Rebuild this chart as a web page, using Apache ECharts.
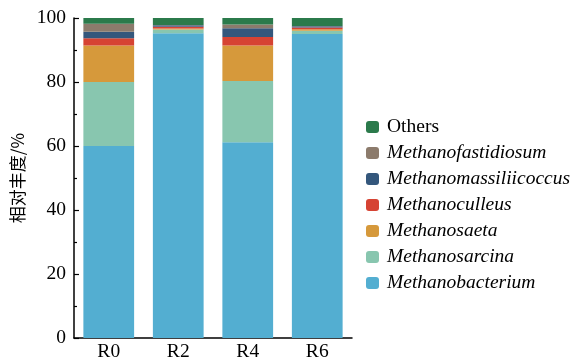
<!DOCTYPE html>
<html>
<head>
<meta charset="utf-8">
<script src="https://cdn.jsdelivr.net/npm/echarts@6/dist/echarts.min.js"></script>
<style>
  html, body { margin: 0; padding: 0; background: #fff; }
  #chart { width: 582px; height: 362px; }
</style>
</head>
<body>
<div id="chart"></div>
<script>
// Samples on the x axis
const samples = ['R0', 'R2', 'R4', 'R6'];

// Relative abundance (%) of each methanogen genus, per sample
const methanobacterium    = [60.0, 95.2, 61.2, 95.0];
const methanosarcina      = [20.0, 1.2, 19.1, 1.0];
const methanosaeta        = [11.4, 0.3, 11.1, 0.5];
const methanoculleus      = [2.3, 0.6, 2.7, 0.5];
const methanomassiliicoccus = [2.0, 0.4, 2.7, 0.4];
const methanofastidiosum  = [2.5, 0.1, 1.2, 0.1];
const others              = [1.8, 2.2, 2.0, 2.5];

// Y axis tick values
const yTicks = [0, 20, 40, 60, 80, 100];

const genera = [
  { name: 'Methanobacterium',      data: methanobacterium,      color: '#53AED1' },
  { name: 'Methanosarcina',        data: methanosarcina,        color: '#88C6AF' },
  { name: 'Methanosaeta',          data: methanosaeta,          color: '#D6993B' },
  { name: 'Methanoculleus',        data: methanoculleus,        color: '#D64333' },
  { name: 'Methanomassiliicoccus', data: methanomassiliicoccus, color: '#34577C' },
  { name: 'Methanofastidiosum',    data: methanofastidiosum,    color: '#8C7B6C' },
  { name: 'Others',                data: others,                color: '#2B7A4B' }
];

const serif = '"Liberation Serif", "Times New Roman", serif';
const fs = 19.5;

const chart = echarts.init(document.getElementById('chart'));
chart.setOption({
  animation: false,
  backgroundColor: '#fff',
  grid: { left: 74, right: 230, top: 18, bottom: 23 },
  legend: {
    orient: 'vertical',
    left: 366,
    top: 117,
    padding: 0,
    itemWidth: 13,
    itemHeight: 12,
    itemGap: 6,
    data: genera.map(g => g.name).reverse(),
    formatter: name => name === 'Others' ? '{n|' + name + '}' : '{i|' + name + '}',
    textStyle: {
      color: '#000',
      padding: [0, 0, 0, 3],
      rich: {
        n: { fontFamily: serif, fontSize: fs, color: '#000' },
        i: { fontFamily: serif, fontSize: fs, fontStyle: 'italic', color: '#000' }
      }
    }
  },
  xAxis: {
    type: 'category',
    data: samples,
    axisLine: { lineStyle: { color: '#000', width: 1.5 } },
    axisTick: { show: false },
    axisLabel: { color: '#000', fontFamily: serif, fontSize: fs, margin: 4 }
  },
  yAxis: {
    type: 'value',
    min: yTicks[0],
    max: yTicks[yTicks.length - 1],
    interval: 20,
    name: '相对丰度/%',
    nameLocation: 'middle',
    nameGap: 48,
    nameTextStyle: { color: '#000', fontFamily: '"Noto Sans CJK SC", sans-serif', fontSize: 17 },
    axisLine: { show: true, lineStyle: { color: '#000', width: 1.5 } },
    axisTick: { show: true, inside: true, length: 5, lineStyle: { color: '#000', width: 1.2 } },
    minorTick: { show: true, splitNumber: 2, length: 3, lineStyle: { color: '#000', width: 1.2 } },
    splitLine: { show: false },
    axisLabel: { color: '#000', fontFamily: serif, fontSize: fs, margin: 8 }
  },
  series: genera.map(g => ({
    name: g.name,
    type: 'bar',
    stack: 'total',
    barWidth: '73%',
    data: g.data,
    itemStyle: { color: g.color }
  }))
});
</script>
</body>
</html>
